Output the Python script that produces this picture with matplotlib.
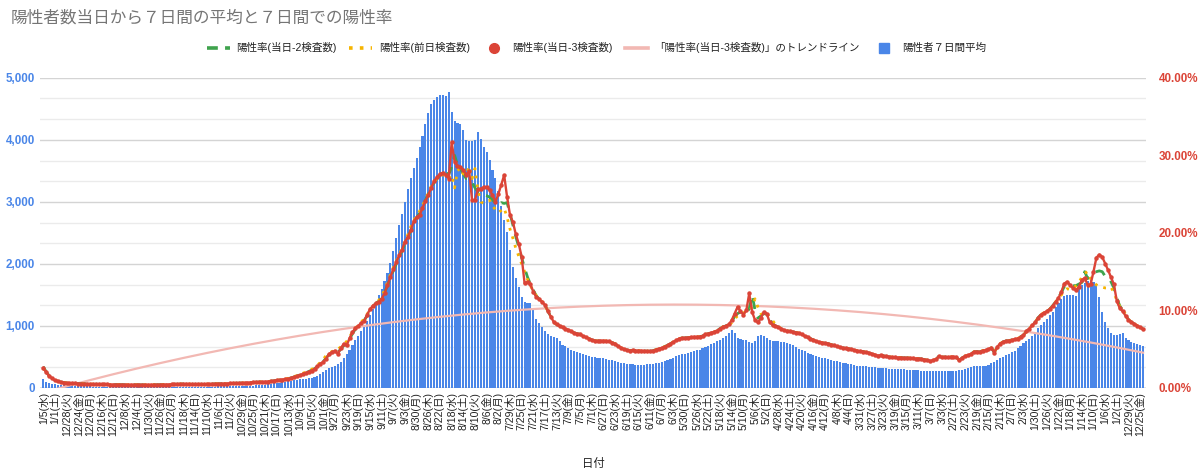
import numpy as np
import pandas as pd
import matplotlib
matplotlib.use("Agg")
import matplotlib.pyplot as plt
from matplotlib.lines import Line2D
from matplotlib.ticker import MultipleLocator, FuncFormatter

plt.rcParams['font.family'] = ['Liberation Sans', 'Noto Sans CJK JP', 'DejaVu Sans']
CJK_FIRST = ['Noto Sans CJK JP', 'DejaVu Sans']

# ---------------- data (chart order: newest on the left) ----------------
dates = pd.date_range('2020-12-24', '2022-01-05', freq='D')[::-1]
weekday_names = ['月', '火', '水', '木', '金', '土', '日']
date_labels = [f"{d.month}/{d.day}({weekday_names[d.weekday()]})" for d in dates]

positives_7day = [
    140, 95, 78, 70, 63, 55, 48, 43, 39, 36,
    33, 31, 30, 28, 26, 25, 24, 22, 21, 20,
    20, 19, 19, 18, 18, 17, 17, 16, 16, 16,
    15, 15, 15, 15, 14, 14, 14, 14, 15, 15,
    15, 16, 16, 17, 17, 18, 18, 19, 19, 20,
    20, 20, 21, 21, 21, 22, 22, 22, 23, 23,
    24, 24, 25, 25, 26, 26, 27, 28, 29, 30,
    32, 35, 38, 42, 46, 51, 56, 62, 68, 74,
    80, 87, 94, 101, 108, 116, 124, 132, 140, 146,
    150, 158, 166, 178, 195, 220, 250, 285, 315, 340,
    360, 385, 415, 480, 550, 620, 700, 770, 840, 920,
    1000, 1080, 1170, 1270, 1380, 1500, 1600, 1720, 1860, 2020,
    2200, 2420, 2620, 2800, 3000, 3200, 3380, 3540, 3700, 3880,
    4060, 4250, 4430, 4580, 4640, 4690, 4720, 4725, 4700, 4775,
    4450, 4300, 4275, 4260, 4160, 4000, 3980, 3975, 4000, 4130,
    4020, 3890, 3800, 3680, 3520, 3380, 3170, 2940, 2700, 2520,
    2230, 1950, 1780, 1620, 1470, 1390, 1370, 1375, 1280, 1110,
    1050, 980, 920, 870, 840, 820, 800, 750, 700, 670,
    645, 620, 595, 580, 565, 555, 535, 520, 505, 495,
    490, 485, 478, 470, 458, 445, 432, 418, 405, 395,
    388, 383, 379, 377, 376, 376, 377, 379, 383, 390,
    400, 410, 420, 430, 445, 465, 490, 515, 538, 548,
    555, 565, 578, 592, 605, 620, 640, 660, 680, 705,
    728, 750, 775, 800, 835, 880, 935, 880, 810, 790,
    780, 770, 745, 728, 760, 830, 860, 845, 800, 775,
    765, 760, 752, 745, 735, 722, 705, 685, 660, 630,
    608, 590, 570, 555, 535, 520, 505, 490, 478, 465,
    455, 440, 428, 418, 410, 400, 390, 380, 370, 362,
    356, 353, 350, 345, 340, 335, 330, 325, 320, 317,
    314, 311, 308, 305, 302, 300, 297, 293, 290, 286,
    282, 278, 275, 272, 270, 269, 270, 278, 280, 278,
    275, 274, 276, 278, 282, 295, 312, 330, 340, 352,
    355, 352, 350, 362, 378, 398, 420, 450, 485, 505,
    530, 555, 572, 600, 640, 680, 720, 760, 790, 840,
    890, 960, 1010, 1060, 1110, 1170, 1230, 1300, 1370, 1430,
    1480, 1495, 1505, 1500, 1490, 1590, 1660, 1700, 1720, 1740,
    1710, 1660, 1470, 1230, 1065, 960, 880, 860, 860, 865,
    880, 800, 770, 745, 728, 712, 698, 678,
]

rate_minus3 = [
    2.6, 2.05, 1.55, 1.25, 1.0, 0.85, 0.75, 0.7, 0.65, 0.62,
    0.6, 0.58, 0.57, 0.55, 0.54, 0.52, 0.5, 0.5, 0.48, 0.47,
    0.46, 0.45, 0.45, 0.44, 0.44, 0.43, 0.43, 0.42, 0.42, 0.42,
    0.41, 0.41, 0.4, 0.4, 0.4, 0.4, 0.4, 0.4, 0.41, 0.41,
    0.42, 0.42, 0.43, 0.44, 0.45, 0.46, 0.48, 0.5, 0.52, 0.52,
    0.5, 0.48, 0.47, 0.47, 0.48, 0.48, 0.5, 0.5, 0.52, 0.53,
    0.54, 0.55, 0.56, 0.57, 0.58, 0.6, 0.6, 0.62, 0.64, 0.66,
    0.68, 0.7, 0.72, 0.74, 0.76, 0.78, 0.8, 0.83, 0.87, 0.92,
    0.97, 1.02, 1.08, 1.14, 1.2, 1.3, 1.4, 1.52, 1.65, 1.8,
    1.95, 2.1, 2.25, 2.45, 2.8, 3.15, 3.35, 3.8, 4.4, 4.6,
    4.8, 4.4, 5.1, 5.7, 5.5, 6.4, 7.2, 7.7, 8.0, 8.4,
    8.65, 9.4, 10.15, 10.6, 10.9, 11.1, 11.5, 12.2, 13.25, 14.3,
    15.3, 16.2, 17.1, 17.85, 18.85, 19.5, 20.35, 21.5, 22.0, 22.3,
    23.2, 24.1, 24.9, 25.8, 26.7, 27.2, 27.6, 27.75, 27.5, 27.0,
    31.7, 29.2, 28.65, 28.5, 28.1, 27.5, 28.0, 24.2, 24.2, 25.6,
    25.7, 25.9, 25.9, 25.5, 24.9, 24.0, 25.0, 26.2, 27.45, 24.65,
    22.3, 21.4, 19.8, 18.6, 16.9, 13.5, 13.7, 13.35, 12.4, 11.75,
    11.45, 11.1, 10.7, 9.9, 9.2, 8.5, 8.2, 8.0, 7.83, 7.66,
    7.5, 7.3, 7.1, 7.0, 6.93, 6.7, 6.55, 6.37, 6.2, 6.1,
    6.05, 6.1, 6.1, 6.05, 6.0, 5.85, 5.7, 5.4, 5.2, 5.0,
    4.9, 4.82, 4.87, 4.82, 4.82, 4.8, 4.78, 4.74, 4.74, 4.8,
    4.95, 5.08, 5.17, 5.34, 5.5, 5.7, 5.94, 6.16, 6.37, 6.45,
    6.45, 6.5, 6.52, 6.59, 6.59, 6.62, 6.7, 6.9, 7.0, 7.15,
    7.23, 7.4, 7.66, 7.88, 8.0, 8.2, 8.74, 9.6, 10.45, 9.9,
    9.47, 10.0, 12.2, 9.8, 8.74, 8.45, 9.04, 9.8, 9.6, 8.5,
    8.1, 7.96, 7.83, 7.66, 7.45, 7.36, 7.3, 7.23, 7.15, 7.1,
    6.9, 6.7, 6.55, 6.37, 6.2, 6.0, 5.94, 5.85, 5.77, 5.73,
    5.6, 5.5, 5.38, 5.25, 5.17, 5.13, 5.08, 5.0, 4.9, 4.82,
    4.74, 4.7, 4.6, 4.52, 4.4, 4.3, 4.18, 4.22, 4.13, 4.09,
    4.0, 3.98, 3.96, 3.92, 3.92, 3.88, 3.88, 3.85, 3.85, 3.79,
    3.79, 3.75, 3.66, 3.58, 3.49, 3.58, 3.7, 4.09, 3.96, 4.0,
    3.96, 4.0, 4.04, 3.96, 3.58, 3.88, 4.13, 4.22, 4.4, 4.65,
    4.7, 4.65, 4.82, 4.87, 5.0, 5.17, 4.57, 5.3, 5.73, 5.94,
    6.07, 6.1, 6.2, 6.3, 6.37, 6.6, 6.8, 7.3, 7.66, 8.1,
    8.45, 9.04, 9.47, 9.7, 9.9, 10.15, 10.6, 11.1, 11.6, 12.4,
    13.47, 13.7, 13.25, 12.9, 12.6, 13.04, 13.9, 14.2, 13.25, 13.35,
    15.0, 16.8, 17.2, 16.9, 16.05, 15.2, 14.3, 13.35, 11.2, 10.3,
    9.9, 9.3, 8.8, 8.5, 8.26, 8.05, 7.83, 7.58,
]

rate_minus2 = [
    2.75, 2.1, 1.6, 1.28, 1.02, 0.87, 0.76, 0.7, 0.66, 0.62,
    0.6, 0.58, 0.57, 0.55, 0.54, 0.52, 0.5, 0.5, 0.48, 0.47,
    0.46, 0.45, 0.45, 0.44, 0.44, 0.43, 0.43, 0.42, 0.42, 0.42,
    0.41, 0.41, 0.4, 0.4, 0.4, 0.4, 0.4, 0.4, 0.41, 0.41,
    0.42, 0.42, 0.43, 0.44, 0.45, 0.46, 0.48, 0.5, 0.52, 0.52,
    0.5, 0.48, 0.47, 0.47, 0.48, 0.48, 0.5, 0.5, 0.52, 0.53,
    0.54, 0.55, 0.56, 0.57, 0.58, 0.6, 0.6, 0.62, 0.64, 0.66,
    0.68, 0.7, 0.72, 0.74, 0.76, 0.78, 0.8, 0.83, 0.87, 0.92,
    0.97, 1.02, 1.08, 1.14, 1.22, 1.3, 1.42, 1.55, 1.68, 1.82,
    1.97, 2.12, 2.3, 2.5, 2.75, 3.05, 3.4, 3.9, 4.3, 4.55,
    4.7, 4.6, 5.0, 5.5, 5.6, 6.3, 7.0, 7.6, 8.0, 8.35,
    8.7, 9.3, 10.0, 10.5, 10.9, 11.2, 11.6, 12.3, 13.2, 14.2,
    15.1, 16.0, 16.9, 17.7, 18.6, 19.4, 20.3, 21.3, 22.0, 22.5,
    23.3, 24.2, 25.0, 25.8, 26.5, 27.0, 27.4, 27.6, 27.8, 27.5,
    28.5, 30.0, 28.8, 28.3, 27.6, 27.0, 27.0, 26.5, 25.8, 25.3,
    24.9, 24.9, 24.8, 24.6, 24.3, 23.8, 23.6, 23.9, 23.8, 23.9,
    22.5, 21.0, 19.5, 18.2, 16.8, 15.5, 14.3, 13.4, 12.6, 11.9,
    11.45, 11.1, 10.7, 9.9, 9.2, 8.5, 8.2, 8.0, 7.83, 7.66,
    7.5, 7.3, 7.1, 7.0, 6.93, 6.7, 6.55, 6.37, 6.2, 6.1,
    6.05, 6.1, 6.1, 6.05, 6.0, 5.85, 5.7, 5.4, 5.2, 5.0,
    4.9, 4.82, 4.87, 4.82, 4.82, 4.8, 4.78, 4.74, 4.74, 4.8,
    4.95, 5.08, 5.17, 5.34, 5.5, 5.7, 5.94, 6.16, 6.37, 6.45,
    6.45, 6.5, 6.52, 6.59, 6.59, 6.62, 6.7, 6.9, 7.0, 7.15,
    7.23, 7.4, 7.66, 7.88, 8.0, 8.2, 8.6, 9.2, 9.6, 9.8,
    9.6, 9.7, 10.2, 12.0, 10.0, 9.0, 9.3, 9.6, 9.5, 8.9,
    8.3, 8.0, 7.85, 7.66, 7.45, 7.36, 7.3, 7.23, 7.15, 7.1,
    6.9, 6.7, 6.55, 6.37, 6.2, 6.0, 5.94, 5.85, 5.77, 5.73,
    5.6, 5.5, 5.38, 5.25, 5.17, 5.13, 5.08, 5.0, 4.9, 4.82,
    4.74, 4.7, 4.6, 4.52, 4.4, 4.3, 4.18, 4.22, 4.13, 4.09,
    4.0, 3.98, 3.96, 3.92, 3.92, 3.88, 3.88, 3.85, 3.85, 3.79,
    3.79, 3.75, 3.66, 3.58, 3.49, 3.58, 3.7, 4.09, 3.96, 4.0,
    3.96, 4.0, 4.04, 3.96, 3.58, 3.88, 4.13, 4.22, 4.4, 4.65,
    4.7, 4.65, 4.82, 4.87, 5.0, 5.17, 4.57, 5.3, 5.73, 5.94,
    6.07, 6.1, 6.2, 6.3, 6.37, 6.6, 6.8, 7.3, 7.66, 8.1,
    8.45, 9.04, 9.47, 9.7, 9.9, 10.15, 10.6, 11.1, 11.7, 12.3,
    13.1, 13.3, 13.3, 13.2, 13.2, 13.4, 13.6, 15.0, 14.1, 14.5,
    14.8, 15.0, 15.1, 15.0, 14.4, 14.2, 13.7, 12.9, 11.6, 10.6,
    10.0, 9.4, 8.8, 8.5, 8.26, 8.05, 7.83, 7.58,
]

rate_prevday = [
    2.6, 2.05, 1.55, 1.25, 1.0, 0.85, 0.75, 0.7, 0.65, 0.62,
    0.6, 0.58, 0.57, 0.55, 0.54, 0.52, 0.5, 0.5, 0.48, 0.47,
    0.46, 0.45, 0.45, 0.44, 0.44, 0.43, 0.43, 0.42, 0.42, 0.42,
    0.41, 0.41, 0.4, 0.4, 0.4, 0.4, 0.4, 0.4, 0.41, 0.41,
    0.42, 0.42, 0.43, 0.44, 0.45, 0.46, 0.48, 0.5, 0.52, 0.52,
    0.5, 0.48, 0.47, 0.47, 0.48, 0.48, 0.5, 0.5, 0.52, 0.53,
    0.54, 0.55, 0.56, 0.57, 0.58, 0.6, 0.6, 0.62, 0.64, 0.66,
    0.68, 0.7, 0.72, 0.74, 0.76, 0.78, 0.8, 0.83, 0.87, 0.92,
    0.97, 1.03, 1.1, 1.17, 1.25, 1.35, 1.47, 1.6, 1.74, 1.9,
    2.05, 2.2, 2.4, 2.65, 2.95, 3.3, 3.7, 4.2, 4.5, 4.7,
    4.9, 5.0, 5.3, 5.6, 6.0, 6.6, 7.2, 7.7, 8.1, 8.5,
    8.9, 9.5, 10.1, 10.5, 10.9, 11.3, 11.8, 12.6, 13.6, 14.6,
    15.5, 16.3, 17.2, 18.0, 18.9, 19.8, 20.8, 21.6, 22.2, 22.8,
    23.5, 24.3, 25.2, 26.0, 26.6, 27.0, 27.3, 27.5, 27.4, 27.0,
    27.5, 25.8, 28.0, 28.4, 27.6, 27.5, 28.6, 27.0, 28.3, 25.5,
    24.0, 23.8, 24.0, 24.2, 23.5, 23.0, 22.6, 22.9, 23.2, 22.0,
    20.5, 19.3, 18.0, 17.0, 16.0, 15.0, 14.0, 13.2, 12.5, 11.9,
    11.5, 11.1, 10.7, 9.9, 9.2, 8.5, 8.2, 8.0, 7.83, 7.66,
    7.5, 7.3, 7.1, 7.0, 6.93, 6.7, 6.55, 6.37, 6.2, 6.1,
    6.05, 6.1, 6.1, 6.05, 6.0, 5.85, 5.7, 5.4, 5.2, 5.0,
    4.9, 4.82, 4.87, 4.82, 4.82, 4.8, 4.78, 4.74, 4.74, 4.8,
    4.95, 5.08, 5.17, 5.34, 5.5, 5.7, 5.94, 6.16, 6.37, 6.45,
    6.45, 6.5, 6.52, 6.59, 6.59, 6.62, 6.7, 6.9, 7.0, 7.15,
    7.23, 7.4, 7.66, 7.88, 8.0, 8.2, 8.4, 8.9, 9.3, 9.5,
    9.7, 9.8, 9.9, 10.5, 11.5, 10.4, 9.6, 9.2, 9.5, 9.2,
    8.7, 8.2, 7.9, 7.66, 7.45, 7.36, 7.3, 7.23, 7.15, 7.1,
    6.9, 6.7, 6.55, 6.37, 6.2, 6.0, 5.94, 5.85, 5.77, 5.73,
    5.6, 5.5, 5.38, 5.25, 5.17, 5.13, 5.08, 5.0, 4.9, 4.82,
    4.74, 4.7, 4.6, 4.52, 4.4, 4.3, 4.18, 4.22, 4.13, 4.09,
    4.0, 3.98, 3.96, 3.92, 3.92, 3.88, 3.88, 3.85, 3.85, 3.79,
    3.79, 3.75, 3.66, 3.58, 3.49, 3.58, 3.7, 4.09, 3.96, 4.0,
    3.96, 4.0, 4.04, 3.96, 3.58, 3.88, 4.13, 4.22, 4.4, 4.65,
    4.7, 4.65, 4.82, 4.87, 5.0, 5.17, 4.57, 5.3, 5.73, 5.94,
    6.07, 6.1, 6.2, 6.3, 6.37, 6.6, 6.8, 7.3, 7.66, 8.1,
    8.45, 9.04, 9.47, 9.7, 9.9, 10.15, 10.6, 11.1, 11.7, 12.0,
    12.5, 12.8, 12.7, 12.8, 13.2, 13.6, 14.3, 14.8, 15.0, 14.1,
    13.6, 13.3, 13.1, 13.0, 12.9, 12.9, 13.0, 12.3, 11.3, 10.5,
    10.1, 9.5, 8.8, 8.5, 8.26, 8.05, 7.83, 7.58,
]

n = len(dates)
for name, s in [('positives_7day', positives_7day), ('rate_minus3', rate_minus3),
                ('rate_minus2', rate_minus2), ('rate_prevday', rate_prevday)]:
    assert len(s) == n, (name, len(s), n)

# ---------------- styling ----------------
C_BAR = '#4a86e8'
C_RED = '#db4437'
C_GREEN = '#3fa34d'
C_YELLOW = '#f6b400'
C_TREND = '#f2b8b3'
C_LEFT = '#4a86e8'
C_TITLE = '#757575'

fig = plt.figure(figsize=(12, 4.7), dpi=100)
ax = fig.add_axes([0.0335, 0.1745, 0.9215, 0.66])
ax2 = ax.twinx()

x = np.arange(n)
ax.bar(x, positives_7day, width=0.72, color=C_BAR, zorder=2, linewidth=0)

ax.set_xlim(-1.03, n - 0.0)
ax.set_ylim(0, 5000)
ax.yaxis.set_major_locator(MultipleLocator(1000))
ax.yaxis.set_minor_locator(MultipleLocator(1000 / 3))
ax.grid(which='major', axis='y', color='#d4d4d4', linewidth=1.0, zorder=0)
ax.grid(which='minor', axis='y', color='#ebebeb', linewidth=1.0, zorder=0)
ax.set_axisbelow(True)
ax.yaxis.set_major_formatter(FuncFormatter(lambda v, p: f"{int(v):,}"))
ax.tick_params(axis='y', which='both', length=0, pad=4, labelsize=8.4,
               labelcolor=C_LEFT)
for t in ax.get_yticklabels():
    t.set_fontweight('bold')

tick_pos = x[::4]
ax.set_xticks(tick_pos)
ax.set_xticklabels([date_labels[i] for i in tick_pos], rotation=90,
                   fontsize=7.6, color='#222222')
ax.tick_params(axis='x', length=0, pad=3)
ax.set_xlabel('日付', fontsize=8.2, color='#222222', labelpad=16)
for s in ax.spines.values():
    s.set_visible(False)
for s in ax2.spines.values():
    s.set_visible(False)
ax.axhline(0, color='#9e9e9e', linewidth=1.0, zorder=1)

# right axis (percent)
coef = np.polyfit(x, rate_minus3, 2)
trend = np.polyval(coef, x)
ax2.plot(x, trend, color=C_TREND, linewidth=1.6, zorder=2)
ax2.plot(x, rate_minus2, color=C_GREEN, linewidth=2.0,
         linestyle=(0, (4, 3)), zorder=3)
ax2.plot(x, rate_prevday, color=C_YELLOW, linewidth=2.0,
         linestyle=(0, (1, 2.2)), zorder=4)
ax2.plot(x, rate_minus3, color=C_RED, linewidth=1.7, marker='o',
         markersize=2.2, zorder=5)
ax2.set_ylim(0, 40)
ax2.yaxis.set_major_locator(MultipleLocator(10))
ax2.yaxis.set_major_formatter(FuncFormatter(lambda v, p: f"{v:.2f}%"))
ax2.tick_params(axis='y', length=0, pad=9, labelsize=8.4, labelcolor=C_RED)
for t in ax2.get_yticklabels():
    t.set_fontweight('bold')
ax2.set_xlim(ax.get_xlim())

# title
fig.text(0.0085, 0.962, '陽性者数当日から７日間の平均と７日間での陽性率',
         fontsize=12, color=C_TITLE, ha='left', va='center', family=CJK_FIRST)

# legend
handles = [
    Line2D([0], [0], color=C_GREEN, linewidth=2.6, linestyle=(0, (3, 2))),
    Line2D([0], [0], color=C_YELLOW, linewidth=2.6, linestyle=(0, (1, 2))),
    Line2D([0], [0], color=C_RED, linestyle='none', marker='o', markersize=7),
    Line2D([0], [0], color=C_TREND, linewidth=2.6),
    Line2D([0], [0], color=C_BAR, linestyle='none', marker='s', markersize=7),
]
labels = ['陽性率(当日-2検査数)', '陽性率(前日検査数)', '陽性率(当日-3検査数)',
          '「陽性率(当日-3検査数)」のトレンドライン', '陽性者７日間平均']
fig.legend(handles, labels, loc='center', bbox_to_anchor=(0.497, 0.898),
           ncol=5, frameon=False, fontsize=7.6, handlelength=2.2,
           handletextpad=0.6, columnspacing=1.2, labelcolor='#222222')

fig.savefig('out.png', dpi=100)
